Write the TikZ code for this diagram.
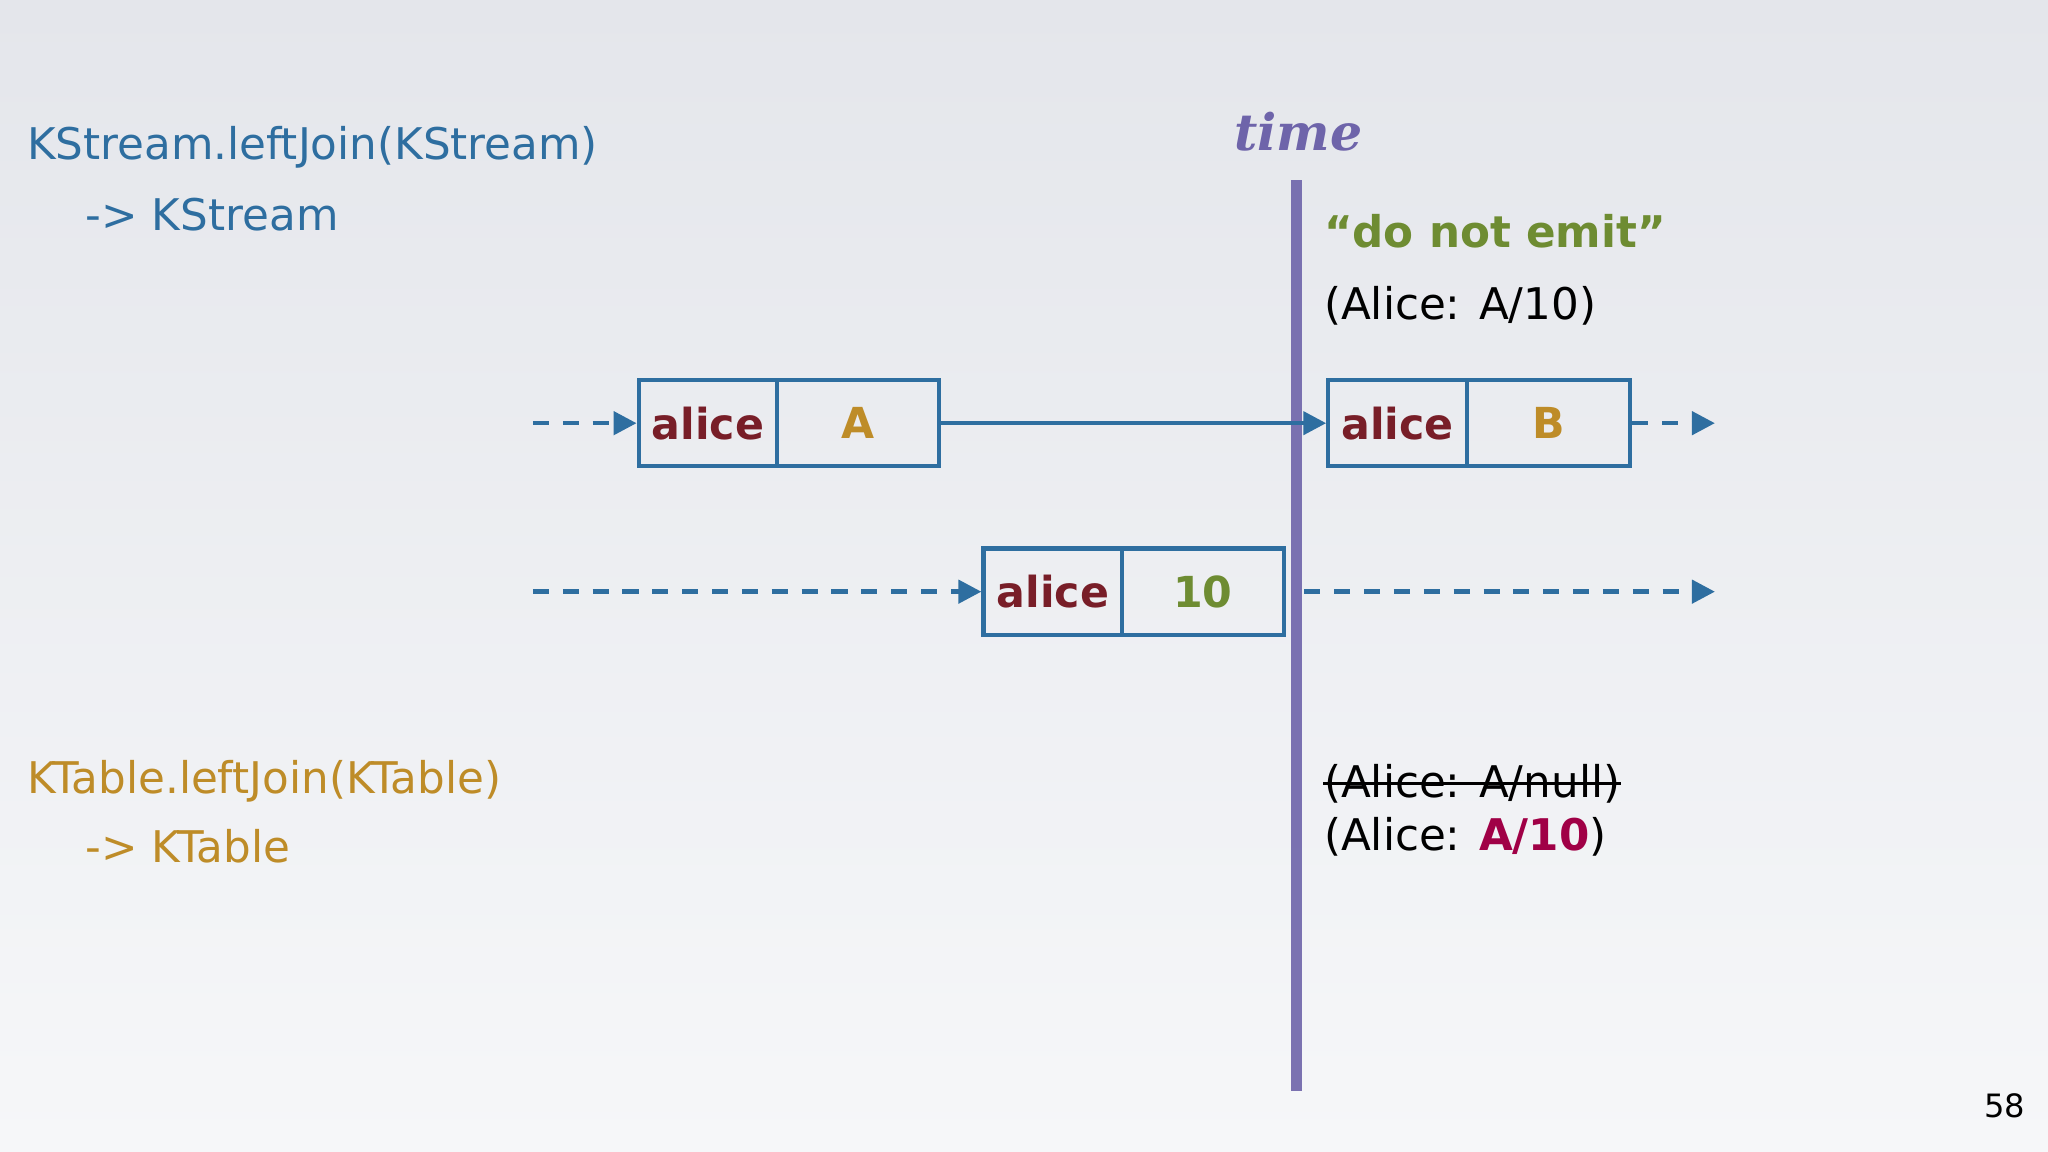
\documentclass[tikz,border=0pt]{standalone}
\usepackage{fontspec}
\setmainfont{DejaVu Sans}
\newfontfamily\timefont{DejaVu Serif}
\usetikzlibrary{arrows.meta}
\definecolor{kblue}{RGB}{46,110,160}
\definecolor{kgold}{RGB}{190,140,40}
\definecolor{kred}{RGB}{120,30,40}
\definecolor{kgreen}{RGB}{110,140,50}
\definecolor{kpurple}{RGB}{110,100,170}
\definecolor{kcrim}{RGB}{160,0,70}
\definecolor{bgtop}{RGB}{228,230,235}
\definecolor{bgbot}{RGB}{246,247,249}
\begin{document}
\begin{tikzpicture}[x=0.01cm,y=-0.01cm,
  txt/.style={font=\fontsize{9.5}{11}\selectfont,inner sep=0pt,anchor=west},
  cell/.style={draw=kblue,line width=0.9pt,minimum height=0.66cm,inner sep=0pt,font=\fontsize{9.3}{11}\bfseries},
  arr/.style={kblue,line width=1pt,-{Triangle[length=5pt,width=5pt]}},
  darr/.style={arr,dash pattern=on 3.5pt off 3pt}]
\shade[top color=bgtop,bottom color=bgbot] (0,0) rectangle (1568,882);
\useasboundingbox (0,0) rectangle (1568,882);
\node[txt,text=kblue] (t1) at (20,113) {KStream.leftJoin(KStream)};
\node[txt,text=kblue] (t2) at (65,164) {-> KStream};
\node[txt,text=kgold] (t3) at (20,598) {KTable.leftJoin(KTable)};
\node[txt,text=kgold] (t4) at (65,648) {-> KTable};
\node[text=kpurple,font=\timefont\fontsize{11}{13}\bfseries\itshape] (time) at (994,101) {time};
\coordinate (ltop) at (993,138);
\coordinate (lbot) at (993,835);
\draw[kpurple,line width=2.4pt,opacity=0.9] (ltop) -- (lbot);
\node[txt,text=kgreen,font=\fontsize{9.5}{11}\bfseries] (emit) at (1013,177) {“do not emit”};
\node[txt] (a1) at (1013,234) {(Alice: A/10)};
\node[cell,minimum width=1.06cm,text=kred] (b1k) at (542,324) {alice};
\node[cell,minimum width=1.24cm,text=kgold] (b1v) at (657,324) {A};
\node[cell,minimum width=1.06cm,text=kred] (b2k) at (1070,324) {alice};
\node[cell,minimum width=1.25cm,text=kgold] (b2v) at (1185.5,324) {B};
\node[cell,minimum width=1.06cm,text=kred] (b3k) at (806,453) {alice};
\node[cell,minimum width=1.24cm,text=kgreen] (b3v) at (921,453) {10};
\coordinate (s1) at (408,324);
\coordinate (e1) at (1313,324);
\coordinate (s2) at (408,453);
\coordinate (e2) at (1313,453);
\draw[darr] (s1) -- (b1k.west);
\draw[arr] (b1v.east) -- (b2k.west);
\draw[darr] (b2v.east) -- (e1);
\draw[darr] (s2) -- (b3k.west);
\draw[darr,shorten <=4pt] (b3v.east) -- (e2);
\node[txt] (n1) at (1013,600) {(Alice: A/null)};
\draw[line width=0.7pt] (n1.west) -- (n1.east);
\node[txt] (n2) at (1013,641) {(Alice: \textcolor{kcrim}{\bfseries A/10})};
\node[font=\fontsize{7}{8}\selectfont] (pg) at (1535,847) {58};
\end{tikzpicture}
\end{document}
